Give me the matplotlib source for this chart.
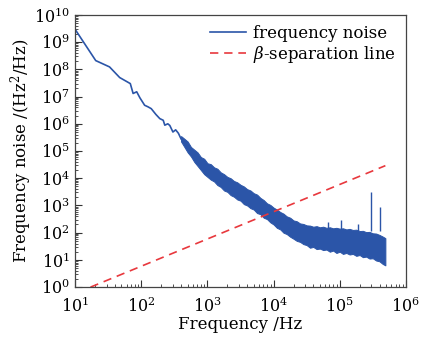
import matplotlib
matplotlib.use('Agg')
import matplotlib.pyplot as plt
from matplotlib.ticker import LogLocator, NullFormatter

plt.rcParams['font.family'] = ['DejaVu Serif']
plt.rcParams['mathtext.fontset'] = 'dejavuserif'

# smooth low-frequency part of the measured spectrum (Hz, Hz^2/Hz)
trace_freq = [10, 20.4, 33, 47, 68, 75, 85, 95, 112, 126, 141, 166, 190, 214,
              226, 251, 269, 300, 330, 363, 398]
trace_noise = [2.9e9, 2.1e8, 1.23e8, 5.0e7, 3.0e7, 1.3e7, 1.5e7, 9.0e6, 4.8e6,
               4.2e6, 3.6e6, 2.2e6, 1.55e6, 1.35e6, 8.9e5, 1.0e6, 8.7e5,
               5.0e5, 6.0e5, 4.5e5, 2.8e5]

# noisy band above ~400 Hz: upper and lower envelope
band_freq = [398, 447, 501, 562, 631, 708, 794, 891,
             1000, 1120, 1260, 1410, 1580, 1780, 2000, 2240, 2510, 2820,
             3160, 3550, 3980, 4470, 5010, 5620, 6310, 7080, 7940, 8910,
             1.0e4, 1.12e4, 1.26e4, 1.41e4, 1.58e4, 1.78e4, 2.0e4, 2.24e4,
             2.51e4, 2.82e4, 3.16e4, 3.55e4, 3.98e4, 4.47e4, 5.01e4, 5.62e4,
             6.31e4, 7.08e4, 7.94e4, 8.91e4,
             1.0e5, 1.12e5, 1.26e5, 1.41e5, 1.58e5, 1.78e5, 2.0e5, 2.24e5,
             2.51e5, 2.82e5, 3.16e5, 3.55e5, 3.98e5, 4.47e5, 4.9e5]
band_upper = [3.55e5, 2.82e5, 2.24e5, 1.41e5, 1.12e5, 8.91e4, 6.0e4, 5.2e4,
              3.55e4, 3.3e4, 2.51e4, 2.24e4, 1.66e4, 1.41e4, 1.12e4, 1.0e4,
              7.94e3, 7.08e3, 5.75e3, 5.0e3, 3.98e3, 3.55e3, 2.82e3, 2.51e3,
              1.9e3, 1.58e3, 1.2e3, 1.05e3, 832, 708, 575, 501, 398, 355, 282,
              263, 219, 209, 186, 182, 166, 174, 158, 166, 151, 158, 145, 151,
              141, 145, 132, 138, 126, 129, 115, 117, 105, 107, 95, 93, 83,
              72, 63]
band_lower = [2.24e5, 1.41e5, 8.91e4, 6.31e4, 3.98e4, 2.82e4, 2.0e4, 1.41e4,
              1.12e4, 8.91e3, 7.6e3, 5.62e3, 4.8e3, 3.55e3, 3.16e3, 2.4e3,
              2.1e3, 1.66e3, 1.5e3, 1.12e3, 1.0e3, 794, 708, 525, 479, 355,
              316, 240, 200, 151, 132, 100, 89, 71, 60, 50, 46, 38, 35, 28,
              30, 25, 26, 23, 24, 20, 22, 18, 20, 16.6, 18, 15.8, 16.6, 14.1,
              15.1, 12.6, 13.2, 11.2, 11.5, 9.5, 8.9, 7.1, 6.3]

# narrow spectral spikes
spike_freq = [6.6e4, 1.05e5, 1.86e5, 2.95e5, 4.0e5]
spike_top = [257, 282, 214, 3.1e3, 870]

# beta-separation line
beta_freq = [17, 4.9e5]
beta_noise = [1.0, 2.9e4]

blue = '#2b55a8'
red = '#e8383d'

fig = plt.figure(figsize=(4.35, 3.39), dpi=100)
ax = fig.add_axes([0.173, 0.153, 0.760, 0.803])

ax.plot(trace_freq, trace_noise, color=blue, lw=1.2, label='frequency noise')
ax.fill_between(band_freq, band_lower, band_upper, color=blue, lw=0.7,
                edgecolor=blue)
ax.vlines(spike_freq, [120] * len(spike_freq), spike_top, color=blue, lw=1.0)
ax.plot(beta_freq, beta_noise, color=red, lw=1.2, ls=(0, (5, 3.5)),
        label=r'$\beta$-separation line')

ax.set_xscale('log')
ax.set_yscale('log')
ax.set_xlim(10, 1e6)
ax.set_ylim(1, 1e10)
ax.xaxis.set_major_locator(LogLocator(base=10, numticks=10))
ax.yaxis.set_major_locator(LogLocator(base=10, numticks=15))
ax.xaxis.set_minor_locator(LogLocator(base=10, subs=range(2, 10), numticks=20))
ax.yaxis.set_minor_locator(LogLocator(base=10, subs=range(2, 10), numticks=20))
ax.xaxis.set_minor_formatter(NullFormatter())
ax.yaxis.set_minor_formatter(NullFormatter())
ax.tick_params(which='both', direction='in', top=False, right=False,
               labelsize=11.5, colors='#333333', labelcolor='black')
ax.tick_params(which='major', length=5, width=0.8)
ax.tick_params(which='minor', length=2.5, width=0.6)
ax.tick_params(axis='x', pad=7)
ax.tick_params(axis='y', pad=4)
for s in ax.spines.values():
    s.set_color('#444444')
    s.set_linewidth(0.9)

ax.set_xlabel('Frequency /Hz', fontsize=12, labelpad=0)
ax.set_ylabel(r'Frequency noise /(Hz$^2$/Hz)', fontsize=12, labelpad=0)
ax.legend(loc='upper right', frameon=False, fontsize=12, handlelength=2.2,
          borderaxespad=0.2, labelspacing=0.1, handletextpad=0.4)

fig.savefig('out.png', dpi=100)
